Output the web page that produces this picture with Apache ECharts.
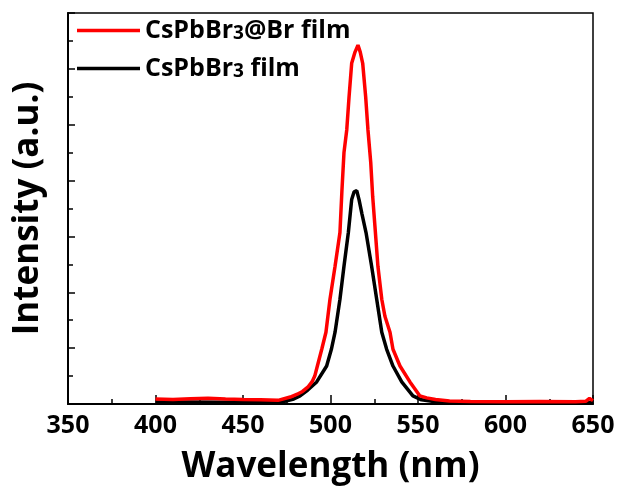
<!DOCTYPE html>
<html>
<head>
<meta charset="utf-8">
<script src="https://cdn.jsdelivr.net/npm/echarts@6/dist/echarts.min.js"></script>
<style>html,body{margin:0;padding:0;background:#fff}#c{width:622px;height:490px}</style>
</head>
<body>
<div id="c"></div>
<script>
const xTicks = [350, 400, 450, 500, 550, 600, 650];
const redWl = [400,410,420,430,440,450,460,470,477,481,484,487,489.5,491,492.5,495,497.4,499.7,502.6,505.4,506.5,507.7,509.3,510.6,512.1,514,515.7,517,518.4,520.1,521.4,523,524.1,525.4,527.1,529.3,531.1,534,535.7,539.7,545.4,551.1,555,560,568,580,600,620,640,646,648,650];
const redVal = [0.18,0.16,0.19,0.21,0.18,0.16,0.15,0.13,0.25,0.35,0.45,0.6,0.8,1.0,1.36,1.96,2.57,3.75,4.93,6.14,7.6,9.0,9.82,11.0,12.2,12.6,12.85,12.6,12.2,11.0,9.82,8.64,7.43,6.36,4.93,3.75,3.14,2.57,1.96,1.36,0.79,0.29,0.22,0.16,0.11,0.09,0.08,0.09,0.08,0.1,0.2,0.12];
const blackWl = [400,420,440,460,470,475,479,482.6,487,492.1,497.8,500.5,502.6,505.4,507.7,510.2,512.1,513.5,515,516.3,518,520.3,523.5,526.4,529.3,532.1,535.7,540.7,547.1,552,560,580,620,650];
const blackVal = [0.07,0.07,0.06,0.06,0.07,0.11,0.18,0.29,0.5,0.79,1.36,1.96,2.57,3.75,4.93,6.14,7.32,7.6,7.64,7.32,6.8,6.14,4.93,3.75,2.57,1.96,1.36,0.79,0.29,0.15,0.08,0.05,0.05,0.05];
const seriesNames = ['CsPbBr3@Br film', 'CsPbBr3 film'];

const F = '"Open Sans", sans-serif';
const chart = echarts.init(document.getElementById('c'), null, {renderer: 'canvas'});
function fmtName(n) {
  const i = n.indexOf('3');
  return '{a|' + n.slice(0, i) + '}{s|3}{a|' + n.slice(i + 1) + '}';
}
chart.setOption({
  animation: false,
  backgroundColor: '#fff',
  grid: {left: 68, top: 13, right: 29, bottom: 85, show: true, borderColor: '#000', borderWidth: 1.5},
  legend: {
    orient: 'vertical', left: 72, top: 13, itemGap: 13,
    icon: 'rect', itemWidth: 63, itemHeight: 3.5,
    data: [seriesNames[0], seriesNames[1]],
    formatter: fmtName,
    textStyle: {
      rich: {
        a: {fontFamily: F, fontWeight: 'bold', fontSize: 25, color: '#000', lineHeight: 30},
        s: {fontFamily: F, fontWeight: 'bold', fontSize: 19, color: '#000', lineHeight: 30, padding: [6, 0, 0, 0]}
      }
    }
  },
  xAxis: {
    type: 'value', min: 350, max: 650, interval: 50,
    name: 'Wavelength (nm)', nameLocation: 'middle', nameGap: 46,
    nameTextStyle: {fontFamily: F, fontWeight: 'bold', fontSize: 35, color: '#000'},
    axisLine: {show: true, onZero: false, lineStyle: {color: '#000', width: 2}},
    axisTick: {show: true, inside: true, length: 9, lineStyle: {color: '#000', width: 1.5}},
    minorTick: {show: true, splitNumber: 2, length: 5, lineStyle: {color: '#000', width: 1.5}},
    axisLabel: {fontFamily: F, fontWeight: 'bold', fontSize: 25, color: '#000', margin: 9,
      formatter: v => xTicks.includes(v) ? String(v) : ''},
    splitLine: {show: false}
  },
  yAxis: {
    type: 'value', min: 0, max: 14, interval: 2,
    name: 'Intensity (a.u.)', nameLocation: 'middle', nameGap: 22,
    nameTextStyle: {fontFamily: F, fontWeight: 'bold', fontSize: 35, color: '#000'},
    axisLine: {show: true, lineStyle: {color: '#000', width: 2}},
    axisTick: {show: true, inside: true, length: 7, lineStyle: {color: '#000', width: 1.5}},
    minorTick: {show: true, splitNumber: 2, length: 5, lineStyle: {color: '#000', width: 1.5}},
    axisLabel: {show: false},
    splitLine: {show: false}
  },
  series: [
    {name: seriesNames[1], type: 'line', showSymbol: false, symbol: 'none', z: 2,
      data: blackWl.map((w, i) => [w, blackVal[i]]), lineStyle: {color: '#000', width: 3.5}, itemStyle: {color: '#000'}},
    {name: seriesNames[0], type: 'line', showSymbol: false, symbol: 'none', z: 3,
      data: redWl.map((w, i) => [w, redVal[i]]), lineStyle: {color: '#ff0000', width: 3.5}, itemStyle: {color: '#ff0000'}}
  ]
});
</script>
</body>
</html>
